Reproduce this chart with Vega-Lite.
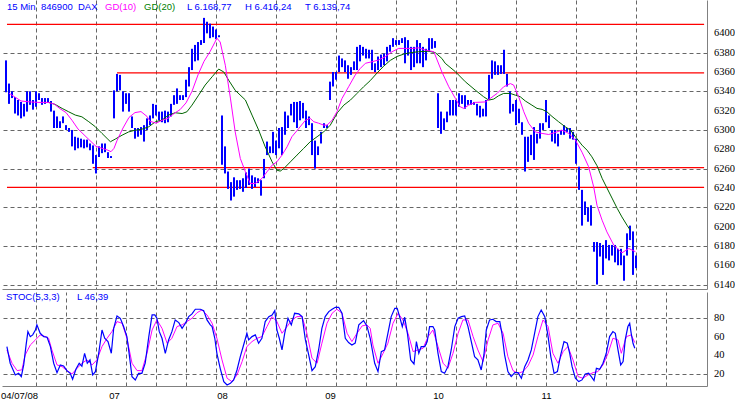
{
"$schema": "https://vega.github.io/schema/vega-lite/v6.json",
"padding": 0,
"background": "white",
"spacing": 0,
"config": {"view": {"stroke": null}, "concat": {"spacing": 0}, "axis": {"domainColor": "#808080", "gridColor": "#666666", "gridDash": [4, 3], "ticks": false, "labelColor": "black"}},
"datasets": {
"bars": [
{"i":0,"hi":6372,"lo":6339},{"i":1,"hi":6348,"lo":6327},{"i":2,"hi":6340,"lo":6333},{"i":3,"hi":6334,"lo":6317},{"i":4,"hi":6331,"lo":6315},{"i":5,"hi":6329,"lo":6312},{"i":6,"hi":6327,"lo":6314},{"i":7,"hi":6340,"lo":6319},{"i":8,"hi":6340,"lo":6326},{"i":9,"hi":6331,"lo":6321},
{"i":10,"hi":6340,"lo":6324},{"i":11,"hi":6338,"lo":6331},{"i":12,"hi":6333,"lo":6326},{"i":13,"hi":6333,"lo":6327},{"i":14,"hi":6333,"lo":6328},{"i":15,"hi":6330,"lo":6319},{"i":16,"hi":6320,"lo":6302},{"i":17,"hi":6314,"lo":6302},{"i":18,"hi":6309,"lo":6302},{"i":19,"hi":6314,"lo":6307},
{"i":20,"hi":6305,"lo":6300},{"i":21,"hi":6302,"lo":6298},{"i":22,"hi":6300,"lo":6283},{"i":23,"hi":6293,"lo":6279},{"i":24,"hi":6292,"lo":6281},{"i":25,"hi":6291,"lo":6282},{"i":26,"hi":6290,"lo":6281},{"i":27,"hi":6290,"lo":6282},{"i":28,"hi":6286,"lo":6279},{"i":29,"hi":6284,"lo":6265},
{"i":30,"hi":6274,"lo":6255},{"i":31,"hi":6283,"lo":6272},{"i":32,"hi":6286,"lo":6276},{"i":33,"hi":6286,"lo":6277},{"i":34,"hi":6277,"lo":6271},{"i":35,"hi":6273,"lo":6271},{"i":36,"hi":6341,"lo":6312},{"i":37,"hi":6358,"lo":6340},{"i":38,"hi":6357,"lo":6341},{"i":39,"hi":6340,"lo":6319},
{"i":40,"hi":6338,"lo":6327},{"i":41,"hi":6338,"lo":6319},{"i":42,"hi":6314,"lo":6302},{"i":43,"hi":6302,"lo":6291},{"i":44,"hi":6302,"lo":6293},{"i":45,"hi":6303,"lo":6295},{"i":46,"hi":6305,"lo":6288},{"i":47,"hi":6312,"lo":6300},{"i":48,"hi":6315,"lo":6305},{"i":49,"hi":6327,"lo":6312},
{"i":50,"hi":6326,"lo":6315},{"i":51,"hi":6319,"lo":6310},{"i":52,"hi":6319,"lo":6308},{"i":53,"hi":6320,"lo":6307},{"i":54,"hi":6319,"lo":6308},{"i":55,"hi":6327,"lo":6314},{"i":56,"hi":6336,"lo":6326},{"i":57,"hi":6343,"lo":6327},{"i":58,"hi":6336,"lo":6331},{"i":59,"hi":6336,"lo":6331},
{"i":60,"hi":6352,"lo":6334},{"i":61,"hi":6365,"lo":6345},{"i":62,"hi":6384,"lo":6362},{"i":63,"hi":6388,"lo":6371},{"i":64,"hi":6391,"lo":6372},{"i":65,"hi":6393,"lo":6388},{"i":66,"hi":6416,"lo":6390},{"i":67,"hi":6412,"lo":6400},{"i":68,"hi":6410,"lo":6395},{"i":69,"hi":6407,"lo":6396},
{"i":70,"hi":6404,"lo":6394},{"i":71,"hi":6398,"lo":6396},{"i":72,"hi":6315,"lo":6264},{"i":73,"hi":6283,"lo":6255},{"i":74,"hi":6257,"lo":6239},{"i":75,"hi":6246,"lo":6227},{"i":76,"hi":6251,"lo":6231},{"i":77,"hi":6248,"lo":6238},{"i":78,"hi":6248,"lo":6239},{"i":79,"hi":6250,"lo":6236},
{"i":80,"hi":6256,"lo":6240},{"i":81,"hi":6260,"lo":6243},{"i":82,"hi":6253,"lo":6239},{"i":83,"hi":6251,"lo":6241},{"i":84,"hi":6250,"lo":6245},{"i":85,"hi":6248,"lo":6232},{"i":86,"hi":6270,"lo":6250},{"i":87,"hi":6288,"lo":6274},{"i":88,"hi":6283,"lo":6276},{"i":89,"hi":6298,"lo":6276},
{"i":90,"hi":6289,"lo":6274},{"i":91,"hi":6302,"lo":6281},{"i":92,"hi":6303,"lo":6274},{"i":93,"hi":6319,"lo":6295},{"i":94,"hi":6315,"lo":6302},{"i":95,"hi":6327,"lo":6315},{"i":96,"hi":6329,"lo":6308},{"i":97,"hi":6329,"lo":6302},{"i":98,"hi":6330,"lo":6310},{"i":99,"hi":6328,"lo":6312},
{"i":100,"hi":6320,"lo":6302},{"i":101,"hi":6314,"lo":6305},{"i":102,"hi":6307,"lo":6274},{"i":103,"hi":6289,"lo":6260},{"i":104,"hi":6283,"lo":6274},{"i":105,"hi":6298,"lo":6286},{"i":106,"hi":6307,"lo":6302},{"i":107,"hi":6305,"lo":6302},{"i":108,"hi":6350,"lo":6331},{"i":109,"hi":6360,"lo":6345},
{"i":110,"hi":6360,"lo":6352},{"i":111,"hi":6377,"lo":6360},{"i":112,"hi":6374,"lo":6365},{"i":113,"hi":6372,"lo":6360},{"i":114,"hi":6367,"lo":6353},{"i":115,"hi":6365,"lo":6357},{"i":116,"hi":6371,"lo":6362},{"i":117,"hi":6386,"lo":6362},{"i":118,"hi":6388,"lo":6371},{"i":119,"hi":6386,"lo":6377},
{"i":120,"hi":6384,"lo":6374},{"i":121,"hi":6383,"lo":6374},{"i":122,"hi":6383,"lo":6362},{"i":123,"hi":6369,"lo":6360},{"i":124,"hi":6376,"lo":6362},{"i":125,"hi":6378,"lo":6365},{"i":126,"hi":6379,"lo":6367},{"i":127,"hi":6386,"lo":6371},{"i":128,"hi":6388,"lo":6381},{"i":129,"hi":6395,"lo":6386},
{"i":130,"hi":6393,"lo":6388},{"i":131,"hi":6393,"lo":6388},{"i":132,"hi":6395,"lo":6390},{"i":133,"hi":6396,"lo":6369},{"i":134,"hi":6393,"lo":6377},{"i":135,"hi":6386,"lo":6362},{"i":136,"hi":6386,"lo":6365},{"i":137,"hi":6393,"lo":6369},{"i":138,"hi":6390,"lo":6369},{"i":139,"hi":6386,"lo":6365},
{"i":140,"hi":6384,"lo":6372},{"i":141,"hi":6395,"lo":6381},{"i":142,"hi":6395,"lo":6384},{"i":143,"hi":6392,"lo":6385},{"i":144,"hi":6338,"lo":6302},{"i":145,"hi":6319,"lo":6296},{"i":146,"hi":6312,"lo":6300},{"i":147,"hi":6319,"lo":6308},{"i":148,"hi":6331,"lo":6315},{"i":149,"hi":6331,"lo":6315},
{"i":150,"hi":6331,"lo":6315},{"i":151,"hi":6338,"lo":6324},{"i":152,"hi":6336,"lo":6327},{"i":153,"hi":6336,"lo":6322},{"i":154,"hi":6331,"lo":6326},{"i":155,"hi":6331,"lo":6326},{"i":156,"hi":6329,"lo":6326},{"i":157,"hi":6327,"lo":6315},{"i":158,"hi":6325,"lo":6313},{"i":159,"hi":6322,"lo":6314},
{"i":160,"hi":6331,"lo":6314},{"i":161,"hi":6357,"lo":6331},{"i":162,"hi":6372,"lo":6353},{"i":163,"hi":6371,"lo":6357},{"i":164,"hi":6367,"lo":6357},{"i":165,"hi":6367,"lo":6358},{"i":166,"hi":6383,"lo":6358},{"i":167,"hi":6358,"lo":6345},{"i":168,"hi":6340,"lo":6317},{"i":169,"hi":6327,"lo":6319},
{"i":170,"hi":6331,"lo":6305},{"i":171,"hi":6322,"lo":6307},{"i":172,"hi":6308,"lo":6295},{"i":173,"hi":6293,"lo":6257},{"i":174,"hi":6293,"lo":6267},{"i":175,"hi":6295,"lo":6274},{"i":176,"hi":6303,"lo":6269},{"i":177,"hi":6296,"lo":6286},{"i":178,"hi":6307,"lo":6291},{"i":179,"hi":6307,"lo":6300},
{"i":180,"hi":6331,"lo":6308},{"i":181,"hi":6315,"lo":6302},{"i":182,"hi":6300,"lo":6288},{"i":183,"hi":6300,"lo":6286},{"i":184,"hi":6296,"lo":6283},{"i":185,"hi":6300,"lo":6295},{"i":186,"hi":6305,"lo":6295},{"i":187,"hi":6302,"lo":6298},{"i":188,"hi":6302,"lo":6291},{"i":189,"hi":6298,"lo":6290},
{"i":190,"hi":6291,"lo":6265},{"i":191,"hi":6262,"lo":6238},{"i":192,"hi":6238,"lo":6201},{"i":193,"hi":6226,"lo":6212},{"i":194,"hi":6220,"lo":6205},{"i":195,"hi":6222,"lo":6201},{"i":196,"hi":6184,"lo":6174},{"i":197,"hi":6184,"lo":6140},{"i":198,"hi":6183,"lo":6169},{"i":199,"hi":6181,"lo":6150},
{"i":200,"hi":6186,"lo":6167},{"i":201,"hi":6181,"lo":6165},{"i":202,"hi":6181,"lo":6170},{"i":203,"hi":6181,"lo":6163},{"i":204,"hi":6177,"lo":6160},{"i":205,"hi":6177,"lo":6160},{"i":206,"hi":6170,"lo":6144},{"i":207,"hi":6193,"lo":6170},{"i":208,"hi":6201,"lo":6186},{"i":209,"hi":6195,"lo":6150},
{"i":210,"hi":6170,"lo":6157}
],
"ma10": [
{"i":1,"v":6338},{"i":3,"v":6334},{"i":5,"v":6330},{"i":8,"v":6329},{"i":11,"v":6328.5},{"i":14,"v":6328.5},{"i":16,"v":6327},{"i":18,"v":6322},{"i":20,"v":6318},{"i":22,"v":6310},{"i":24,"v":6301},{"i":26,"v":6295},{"i":28,"v":6289},{"i":30,"v":6283},{"i":32,"v":6281},{"i":34,"v":6279},{"i":35,"v":6277.5},{"i":36,"v":6281},{"i":37,"v":6289},{"i":39,"v":6302},{"i":41,"v":6313},{"i":43,"v":6318},{"i":45,"v":6319},{"i":47,"v":6314},{"i":48,"v":6309},{"i":50,"v":6307},{"i":52,"v":6310},{"i":54,"v":6312},{"i":56,"v":6317},{"i":58,"v":6321},{"i":60,"v":6328},{"i":62,"v":6340},{"i":64,"v":6357},{"i":66,"v":6371},{"i":68,"v":6381},{"i":69.5,"v":6390},{"i":70.3,"v":6395},{"i":71.4,"v":6391},{"i":73.1,"v":6367},{"i":74.8,"v":6333},{"i":76.4,"v":6298},{"i":78.1,"v":6270.5},{"i":79.8,"v":6256.7},{"i":81.4,"v":6244.6},{"i":83.1,"v":6244.6},{"i":85.3,"v":6249.8},{"i":87,"v":6256.7},{"i":88.7,"v":6263.6},{"i":90.3,"v":6267},{"i":92,"v":6274},{"i":93.7,"v":6282.6},{"i":95.3,"v":6293},{"i":97.6,"v":6301.6},{"i":99.8,"v":6310},{"i":101.4,"v":6312},{"i":102.6,"v":6308.5},{"i":104.2,"v":6307},{"i":105.9,"v":6305},{"i":107,"v":6305},{"i":108.7,"v":6310},{"i":110.3,"v":6318.8},{"i":112,"v":6332.6},{"i":114.2,"v":6344.7},{"i":116.4,"v":6356.8},{"i":118.1,"v":6363.7},{"i":119.8,"v":6369},{"i":122,"v":6370.6},{"i":124.2,"v":6372.4},{"i":126.4,"v":6375.8},{"i":128.7,"v":6381},{"i":130.9,"v":6384.4},{"i":135.3,"v":6384.4},{"i":137.6,"v":6385},{"i":139.8,"v":6382.7},{"i":142.6,"v":6381},{"i":145.3,"v":6360},{"i":147.6,"v":6344.7},{"i":149.8,"v":6332.6},{"i":151.4,"v":6324},{"i":152.6,"v":6322.3},{"i":154.2,"v":6325.7},{"i":156.4,"v":6328.5},{"i":159.8,"v":6329},{"i":161.4,"v":6332.6},{"i":163.7,"v":6337.8},{"i":165.9,"v":6344.7},{"i":168.1,"v":6348},{"i":169.2,"v":6346.5},{"i":170.9,"v":6334.4},{"i":172.6,"v":6318.8},{"i":174.2,"v":6307},{"i":176.4,"v":6298},{"i":178.7,"v":6296.4},{"i":180.9,"v":6295.3},{"i":183.1,"v":6297.4},{"i":185.3,"v":6299.8},{"i":187.6,"v":6296.4},{"i":189.8,"v":6289.5},{"i":192,"v":6277},{"i":194.2,"v":6262},{"i":195.9,"v":6241},{"i":197,"v":6222},{"i":198.7,"v":6206.6},{"i":200.3,"v":6194.5},{"i":202.6,"v":6180.7},{"i":205.3,"v":6172.8},{"i":207.6,"v":6177.3},{"i":209.8,"v":6174}
],
"ma20": [
{"i":14.2,"v":6328.5},{"i":16.4,"v":6326.4},{"i":18.7,"v":6322.3},{"i":20.9,"v":6318.8},{"i":23.1,"v":6315.4},{"i":25.3,"v":6313.6},{"i":27.6,"v":6308.5},{"i":29.8,"v":6303.3},{"i":32,"v":6296.4},{"i":33.7,"v":6291.2},{"i":34.8,"v":6287.8},{"i":36.4,"v":6290.5},{"i":38.7,"v":6294.6},{"i":40.9,"v":6298},{"i":43.1,"v":6299.8},{"i":45.3,"v":6300.8},{"i":47.6,"v":6303.3},{"i":49.8,"v":6308.5},{"i":52,"v":6310.2},{"i":54.2,"v":6315.4},{"i":56.4,"v":6317.8},{"i":58.7,"v":6317},{"i":60.3,"v":6318.8},{"i":62,"v":6325.7},{"i":64.2,"v":6336},{"i":66.4,"v":6346.5},{"i":68.7,"v":6355},{"i":70.9,"v":6363},{"i":72.6,"v":6360},{"i":74.2,"v":6351.6},{"i":76.4,"v":6341},{"i":79.8,"v":6331},{"i":82,"v":6315.4},{"i":84.2,"v":6300},{"i":86.4,"v":6282.6},{"i":88.7,"v":6267},{"i":90.3,"v":6258.4},{"i":91.4,"v":6257.4},{"i":92.6,"v":6260},{"i":94.8,"v":6267},{"i":97,"v":6274},{"i":99.2,"v":6280.8},{"i":101.4,"v":6287.8},{"i":103.7,"v":6293},{"i":105.9,"v":6298},{"i":108.1,"v":6305},{"i":110.5,"v":6318},{"i":112.6,"v":6325.7},{"i":114.8,"v":6330.9},{"i":117,"v":6337.8},{"i":119.2,"v":6344.7},{"i":121.4,"v":6351},{"i":123.7,"v":6359},{"i":125.9,"v":6366},{"i":128.1,"v":6372},{"i":130.3,"v":6376},{"i":132.6,"v":6378.5},{"i":134.8,"v":6380},{"i":137.6,"v":6381},{"i":140.9,"v":6381.5},{"i":143.1,"v":6380},{"i":145.3,"v":6374},{"i":146.4,"v":6369},{"i":149.8,"v":6360.3},{"i":153.1,"v":6349.9},{"i":156.4,"v":6341.3},{"i":159.2,"v":6334.4},{"i":160.9,"v":6330.9},{"i":162.6,"v":6332},{"i":164.2,"v":6335.4},{"i":165.9,"v":6337.8},{"i":168.1,"v":6337.8},{"i":169.8,"v":6336},{"i":171.4,"v":6334.4},{"i":173.1,"v":6330},{"i":175.3,"v":6325.7},{"i":177,"v":6322.3},{"i":178.7,"v":6321.3},{"i":180.3,"v":6318.8},{"i":182,"v":6314},{"i":184.2,"v":6308.5},{"i":186.4,"v":6303.3},{"i":188.1,"v":6300},{"i":189.8,"v":6293},{"i":192,"v":6284.3},{"i":193.7,"v":6279},{"i":195.3,"v":6272.2},{"i":197,"v":6263},{"i":198.7,"v":6250},{"i":200.3,"v":6240},{"i":202,"v":6229.5},{"i":203.7,"v":6219},{"i":205.3,"v":6210},{"i":207,"v":6201.4},{"i":208.1,"v":6196.2}
],
"levels": [
{"lvl":6409.3,"s":0.33,"e":232.7},{"lvl":6359,"s":37,"e":232.7},{"lvl":6261,"s":28.9,"e":232.7},{"lvl":6240.6,"s":0.33,"e":232.7}
],
"plab": [
{"p":6140},{"p":6160},{"p":6180},{"p":6200},{"p":6220},{"p":6240},{"p":6260},{"p":6280},{"p":6300},{"p":6320},{"p":6340},{"p":6360},{"p":6380},{"p":6400}
],
"slab": [
{"p":20},{"p":40},{"p":60},{"p":80}
],
"hdr": [
{"t":"15 Min","k":1},{"t":"846900","k":2},{"t":"DAX","k":3},{"t":"GD(10)","k":4},{"t":"GD(20)","k":5},{"t":"L  6.168,77","k":6},{"t":"H  6.416,24","k":7},{"t":"T  6.139,74","k":8},{"t":"STOC(5,3,3)","k":9},{"t":"L  46,39","k":10}
],
"stk": [
{"i":0.3,"v":49.3},{"i":1.4,"v":31.2},{"i":3.1,"v":18.5},{"i":4.2,"v":20.3},{"i":5.1,"v":16.7},{"i":5.9,"v":29.4},{"i":6.7,"v":51.1},{"i":7.3,"v":65.5},{"i":8.1,"v":60},{"i":8.9,"v":62},{"i":9.8,"v":67.3},{"i":10.3,"v":72.8},{"i":11.4,"v":63.7},{"i":12.6,"v":60.1},{"i":13.7,"v":59.4},{"i":14.8,"v":49.3},{"i":15.9,"v":31.2},{"i":17,"v":21},{"i":18.1,"v":29.4},{"i":19.2,"v":28.3},{"i":20.3,"v":23.2},{"i":21.4,"v":20.3},{"i":22.2,"v":13.8},{"i":23.3,"v":24.6},{"i":24.4,"v":31.2},{"i":25.3,"v":28},{"i":26.2,"v":42},{"i":27.1,"v":31.2},{"i":28,"v":34.8},{"i":28.9,"v":18.5},{"i":29.8,"v":22.1},{"i":30.9,"v":42},{"i":32,"v":67.3},{"i":32.9,"v":58.3},{"i":34,"v":54.7},{"i":35.1,"v":42},{"i":35.9,"v":69.1},{"i":37,"v":82.5},{"i":38.1,"v":80},{"i":39.2,"v":71},{"i":40.3,"v":60.1},{"i":41.1,"v":40.2},{"i":42,"v":16.7},{"i":43.1,"v":13.1},{"i":44.2,"v":20.3},{"i":45.3,"v":20.3},{"i":46.4,"v":31.2},{"i":47.6,"v":60.1},{"i":48.7,"v":83.6},{"i":49.6,"v":83.6},{"i":50.3,"v":80},{"i":51.1,"v":65.5},{"i":52,"v":58.3},{"i":53.1,"v":42},{"i":54.2,"v":56.5},{"i":55.3,"v":65.5},{"i":56.4,"v":78.2},{"i":57.6,"v":75.3},{"i":58.7,"v":69.1},{"i":59.8,"v":74.6},{"i":60.9,"v":81.8},{"i":62,"v":84.7},{"i":63.1,"v":89.8},{"i":64.8,"v":89.8},{"i":65.9,"v":88.3},{"i":67,"v":78.2},{"i":68.1,"v":72.8},{"i":68.7,"v":71},{"i":69.6,"v":58.3},{"i":70.3,"v":42},{"i":71.4,"v":25.7},{"i":72.6,"v":11.3},{"i":73.7,"v":7.6},{"i":74.8,"v":9.4},{"i":75.9,"v":13.1},{"i":77,"v":23.9},{"i":78.1,"v":38.4},{"i":79.2,"v":51},{"i":80.3,"v":63.7},{"i":80.9,"v":56.5},{"i":82,"v":60.1},{"i":83.1,"v":62},{"i":84.2,"v":52.9},{"i":85.3,"v":58.3},{"i":86.4,"v":76.4},{"i":87.6,"v":81.8},{"i":88.7,"v":83.6},{"i":89.6,"v":88.3},{"i":90.3,"v":67.3},{"i":91.1,"v":58.3},{"i":92,"v":45.6},{"i":92.9,"v":63.7},{"i":94,"v":80},{"i":95.1,"v":72.8},{"i":96.2,"v":85.4},{"i":97.6,"v":84.7},{"i":98.7,"v":81.8},{"i":99.8,"v":56.5},{"i":100.9,"v":40.2},{"i":102,"v":23.2},{"i":103.1,"v":27.5},{"i":104.2,"v":45.6},{"i":105.3,"v":69.1},{"i":106.4,"v":81.8},{"i":107.6,"v":87.2},{"i":108.7,"v":89.8},{"i":109.8,"v":91.9},{"i":110.9,"v":91.9},{"i":112,"v":85.4},{"i":113.1,"v":58.3},{"i":114.2,"v":53.6},{"i":115.3,"v":51},{"i":116.4,"v":53},{"i":117.6,"v":72.8},{"i":119.2,"v":77.5},{"i":120.3,"v":71.7},{"i":121.4,"v":58.3},{"i":122.9,"v":31.2},{"i":124,"v":22.1},{"i":125.1,"v":43.8},{"i":126.2,"v":45.6},{"i":127.3,"v":63.7},{"i":128.4,"v":81.8},{"i":129.6,"v":90.8},{"i":130.4,"v":90.8},{"i":131.2,"v":81.8},{"i":132.1,"v":71},{"i":132.9,"v":81.1},{"i":133.8,"v":63.7},{"i":134.9,"v":34.8},{"i":136,"v":30.4},{"i":136.8,"v":54.7},{"i":137.6,"v":42},{"i":138.4,"v":49.3},{"i":139.6,"v":49.3},{"i":140.4,"v":54.7},{"i":141.2,"v":71},{"i":142.3,"v":71},{"i":142.9,"v":67.3},{"i":144,"v":42},{"i":145.1,"v":22.1},{"i":146.2,"v":20.3},{"i":147.3,"v":27.5},{"i":148.4,"v":45.6},{"i":149.6,"v":71},{"i":150.7,"v":80},{"i":151.8,"v":81.8},{"i":152.9,"v":82.5},{"i":154,"v":71},{"i":155.1,"v":54.7},{"i":156.2,"v":38.4},{"i":157.3,"v":34.8},{"i":158.4,"v":23.9},{"i":159.3,"v":40.2},{"i":160.1,"v":67.3},{"i":161.2,"v":78.2},{"i":162.3,"v":78.9},{"i":163.4,"v":76.4},{"i":164.6,"v":76.4},{"i":165.3,"v":63.7},{"i":166.2,"v":40.2},{"i":167.3,"v":22.1},{"i":168.4,"v":16.7},{"i":169.6,"v":21},{"i":170.7,"v":21},{"i":171.8,"v":14.9},{"i":172.9,"v":27.5},{"i":174,"v":34.8},{"i":175.1,"v":45.6},{"i":176.2,"v":63.7},{"i":177.3,"v":81.8},{"i":178.4,"v":89},{"i":179.6,"v":81.8},{"i":180.7,"v":60.1},{"i":181.6,"v":38.4},{"i":182.7,"v":20.3},{"i":183.8,"v":22.1},{"i":184.9,"v":40.2},{"i":186,"v":54.7},{"i":187.1,"v":52.9},{"i":187.9,"v":42},{"i":188.7,"v":27.5},{"i":189.8,"v":14.9},{"i":190.9,"v":11.3},{"i":192,"v":13.1},{"i":193.1,"v":19.6},{"i":194.2,"v":20.3},{"i":195.1,"v":16.7},{"i":196,"v":12.4},{"i":196.8,"v":25.7},{"i":197.9,"v":24.6},{"i":199,"v":31.2},{"i":200.1,"v":42},{"i":201.2,"v":60.1},{"i":202.3,"v":65.5},{"i":203.1,"v":63.7},{"i":204,"v":45.6},{"i":204.9,"v":29.4},{"i":205.7,"v":33},{"i":206.4,"v":56.5},{"i":207.3,"v":71},{"i":207.9,"v":74.6},{"i":208.4,"v":63.7},{"i":209,"v":52.9},{"i":209.6,"v":47.4}
],
"std": [
{"i":0.3,"v":45.6},{"i":2,"v":31.2},{"i":3.7,"v":23.2},{"i":5.3,"v":24},{"i":6.4,"v":40.2},{"i":8.1,"v":51},{"i":9.8,"v":56.5},{"i":11.4,"v":61.9},{"i":13.1,"v":60.1},{"i":14.2,"v":58.3},{"i":15.3,"v":45.6},{"i":17,"v":29.4},{"i":18.7,"v":27.5},{"i":20.3,"v":23.2},{"i":22,"v":19.6},{"i":23.7,"v":25.7},{"i":25.3,"v":31.2},{"i":27,"v":34.8},{"i":28.7,"v":29.4},{"i":30.3,"v":34.8},{"i":32,"v":49.3},{"i":33.7,"v":58.3},{"i":35.3,"v":65.5},{"i":37,"v":76.4},{"i":38.7,"v":74.6},{"i":40.3,"v":58.3},{"i":42,"v":31.2},{"i":43.7,"v":23.2},{"i":45.3,"v":23.2},{"i":47,"v":42},{"i":48.7,"v":67.3},{"i":50.3,"v":78.2},{"i":52,"v":69.1},{"i":53.7,"v":52.9},{"i":55.3,"v":58.3},{"i":57,"v":71},{"i":58.7,"v":72.8},{"i":60.3,"v":76.4},{"i":62,"v":80},{"i":63.7,"v":86.1},{"i":65.3,"v":89},{"i":67,"v":83.6},{"i":68.7,"v":74.6},{"i":70.3,"v":58.3},{"i":72,"v":34.8},{"i":73.7,"v":14.9},{"i":75.3,"v":11.3},{"i":77,"v":18.5},{"i":78.7,"v":33},{"i":80.3,"v":49.3},{"i":82,"v":54.7},{"i":83.7,"v":58.3},{"i":85.3,"v":60.1},{"i":87,"v":71},{"i":88.7,"v":81.8},{"i":90.3,"v":76.4},{"i":92,"v":63.7},{"i":93.7,"v":71},{"i":95.3,"v":78.2},{"i":97,"v":81.8},{"i":98.7,"v":81.8},{"i":100.3,"v":63.7},{"i":102,"v":36.6},{"i":103.7,"v":31.2},{"i":105.3,"v":52.9},{"i":107,"v":74.6},{"i":108.7,"v":85.4},{"i":110.3,"v":89.8},{"i":112,"v":85.4},{"i":113.7,"v":63.7},{"i":115.3,"v":54.7},{"i":117,"v":63.7},{"i":118.7,"v":71.7},{"i":120.3,"v":72.8},{"i":121.4,"v":69.1},{"i":122.3,"v":51},{"i":124,"v":31.2},{"i":125.7,"v":42},{"i":127.3,"v":52.9},{"i":129,"v":74.6},{"i":130.7,"v":85.4},{"i":132.3,"v":78.2},{"i":134,"v":63.7},{"i":135.7,"v":43.8},{"i":137.3,"v":45.6},{"i":139,"v":47.4},{"i":140.7,"v":60.1},{"i":142.3,"v":67.3},{"i":144,"v":49.3},{"i":145.7,"v":31.2},{"i":147.3,"v":25.7},{"i":149,"v":42},{"i":150.7,"v":63.7},{"i":152.3,"v":78.2},{"i":154,"v":78.2},{"i":155.7,"v":60.1},{"i":157.3,"v":45.6},{"i":159,"v":33},{"i":160.7,"v":56.5},{"i":162.3,"v":72.8},{"i":164,"v":74.6},{"i":165.7,"v":63.7},{"i":167.3,"v":38.4},{"i":169,"v":23.2},{"i":170.7,"v":20.3},{"i":172.3,"v":22.1},{"i":174,"v":28.3},{"i":175.7,"v":40.2},{"i":177.3,"v":60.1},{"i":179,"v":78.2},{"i":180.7,"v":71},{"i":182.3,"v":42},{"i":184,"v":31.2},{"i":185.7,"v":43.8},{"i":187.3,"v":49.3},{"i":189,"v":34.8},{"i":190.7,"v":16.7},{"i":192.3,"v":14.9},{"i":194,"v":18.5},{"i":195.7,"v":21},{"i":197.3,"v":22.1},{"i":199,"v":29.4},{"i":200.7,"v":42},{"i":202.3,"v":58.3},{"i":204,"v":56.5},{"i":205.1,"v":42},{"i":206.8,"v":60.1},{"i":208.4,"v":61.9},{"i":209.6,"v":53.6}
]
},
"vconcat": [
{
"width": 705, "height": 289,
"layer": [
{"data": {"name": "levels"}, "mark": {"type": "rule", "color": "#ff0000", "strokeWidth": 1.2},
 "encoding": {
  "x": {"field": "s", "type": "quantitative", "scale": {"domain": [-1.3333, 233.6667], "nice": false, "zero": false}, "axis": {"values": [10,20,30,40,50,60,70,80,90,100,110,120,130,140,150,160,170,180,190,200,210,220], "grid": true, "labels": false, "title": null}},
  "x2": {"field": "e"},
  "y": {"field": "lvl", "type": "quantitative", "scale": {"domain": [6135.4, 6434.5], "nice": false, "zero": false}, "axis": {"orient": "right", "values": [6140,6160,6180,6200,6220,6240,6260,6280,6300,6320,6340,6360,6380,6400], "grid": true, "labels": false, "title": null}}
 }},
{"data": {"name": "bars"}, "mark": {"type": "rule", "color": "#0000ff", "strokeWidth": 2},
 "encoding": {"x": {"field": "i", "type": "quantitative"}, "y": {"field": "lo", "type": "quantitative"}, "y2": {"field": "hi"}}},
{"data": {"name": "ma20"}, "mark": {"type": "line", "color": "#006400", "strokeWidth": 1},
 "encoding": {"x": {"field": "i", "type": "quantitative"}, "y": {"field": "v", "type": "quantitative"}}},
{"data": {"name": "ma10"}, "mark": {"type": "line", "color": "#ff00ff", "strokeWidth": 1},
 "encoding": {"x": {"field": "i", "type": "quantitative"}, "y": {"field": "v", "type": "quantitative"}}},
{"data": {"name": "plab"}, "mark": {"type": "text", "color": "black", "font": "Liberation Serif", "fontSize": 10.5, "align": "left", "baseline": "middle"},
 "encoding": {"x": {"datum": 236, "type": "quantitative"}, "y": {"field": "p", "type": "quantitative"}, "text": {"field": "p", "type": "quantitative", "format": "d"}}},
{"data": {"name": "hdr"}, "transform": [{"filter": "datum.k == 1"}], "mark": {"type": "text", "color": "#0000ff", "font": "Liberation Sans", "fontSize": 9.5, "align": "left", "baseline": "alphabetic"}, "encoding": {"x": {"datum": 0.33, "type": "quantitative"}, "y": {"datum": 6424.1, "type": "quantitative"}, "text": {"field": "t"}}},
{"data": {"name": "hdr"}, "transform": [{"filter": "datum.k == 2"}], "mark": {"type": "text", "color": "#0000ff", "font": "Liberation Sans", "fontSize": 9.5, "align": "left", "baseline": "alphabetic"}, "encoding": {"x": {"datum": 11.67, "type": "quantitative"}, "y": {"datum": 6424.1, "type": "quantitative"}, "text": {"field": "t"}}},
{"data": {"name": "hdr"}, "transform": [{"filter": "datum.k == 3"}], "mark": {"type": "text", "color": "#0000ff", "font": "Liberation Sans", "fontSize": 9.5, "align": "left", "baseline": "alphabetic"}, "encoding": {"x": {"datum": 24, "type": "quantitative"}, "y": {"datum": 6424.1, "type": "quantitative"}, "text": {"field": "t"}}},
{"data": {"name": "hdr"}, "transform": [{"filter": "datum.k == 4"}], "mark": {"type": "text", "color": "#ff00ff", "font": "Liberation Sans", "fontSize": 9.5, "align": "left", "baseline": "alphabetic"}, "encoding": {"x": {"datum": 33, "type": "quantitative"}, "y": {"datum": 6424.1, "type": "quantitative"}, "text": {"field": "t"}}},
{"data": {"name": "hdr"}, "transform": [{"filter": "datum.k == 5"}], "mark": {"type": "text", "color": "#008000", "font": "Liberation Sans", "fontSize": 9.5, "align": "left", "baseline": "alphabetic"}, "encoding": {"x": {"datum": 46, "type": "quantitative"}, "y": {"datum": 6424.1, "type": "quantitative"}, "text": {"field": "t"}}},
{"data": {"name": "hdr"}, "transform": [{"filter": "datum.k == 6"}], "mark": {"type": "text", "color": "#0000ff", "font": "Liberation Sans", "fontSize": 9.5, "align": "left", "baseline": "alphabetic"}, "encoding": {"x": {"datum": 60.33, "type": "quantitative"}, "y": {"datum": 6424.1, "type": "quantitative"}, "text": {"field": "t"}}},
{"data": {"name": "hdr"}, "transform": [{"filter": "datum.k == 7"}], "mark": {"type": "text", "color": "#0000ff", "font": "Liberation Sans", "fontSize": 9.5, "align": "left", "baseline": "alphabetic"}, "encoding": {"x": {"datum": 79.67, "type": "quantitative"}, "y": {"datum": 6424.1, "type": "quantitative"}, "text": {"field": "t"}}},
{"data": {"name": "hdr"}, "transform": [{"filter": "datum.k == 8"}], "mark": {"type": "text", "color": "#0000ff", "font": "Liberation Sans", "fontSize": 9.5, "align": "left", "baseline": "alphabetic"}, "encoding": {"x": {"datum": 99.67, "type": "quantitative"}, "y": {"datum": 6424.1, "type": "quantitative"}, "text": {"field": "t"}}}
]
},
{
"width": 705, "height": 94,
"resolve": {"axis": {"x": "independent"}},
"layer": [
{"data": {"name": "std"}, "mark": {"type": "line", "color": "#ff00ff", "strokeWidth": 1},
 "encoding": {
  "x": {"field": "i", "type": "quantitative", "scale": {"domain": [-1.3333, 233.6667], "nice": false, "zero": false},
   "axis": {"orient": "top", "values": [10,20,30,40,50,60,70,80,90,100,110,120,130,140,150,160,170,180,190,200,210,220], "grid": true, "labels": false, "domain": false, "title": null}},
  "y": {"field": "v", "type": "quantitative", "scale": {"domain": [6.5, 108.5], "nice": false, "zero": false},
   "axis": {"orient": "right", "values": [20,40,60,80], "grid": true, "labels": false, "title": null}}
 }},
{"data": {"name": "stk"}, "mark": {"type": "line", "color": "#0000ff", "strokeWidth": 1.2},
 "encoding": {
  "x": {"field": "i", "type": "quantitative",
   "axis": {"orient": "bottom", "values": [4.33, 36, 72, 108, 144, 180], "grid": false, "labelExpr": "datum.value < 10 ? '04/07/08' : datum.value == 36 ? '07' : datum.value == 72 ? '08' : datum.value == 108 ? '09' : datum.value == 144 ? '10' : '11'", "labelOverlap": false, "labelBound": false, "labelFlush": false, "labelFont": "Liberation Sans", "labelFontSize": 9.5, "labelPadding": 4, "title": null}},
  "y": {"field": "v", "type": "quantitative"}
 }},
{"data": {"name": "slab"}, "mark": {"type": "text", "color": "black", "font": "Liberation Serif", "fontSize": 10.5, "align": "left", "baseline": "middle"},
 "encoding": {"x": {"datum": 236, "type": "quantitative", "axis": null}, "y": {"field": "p", "type": "quantitative"}, "text": {"field": "p", "type": "quantitative", "format": "d"}}},
{"data": {"name": "hdr"}, "transform": [{"filter": "datum.k == 9"}], "mark": {"type": "text", "color": "#0000ff", "font": "Liberation Sans", "fontSize": 9.5, "align": "left", "baseline": "alphabetic"}, "encoding": {"x": {"datum": 0, "type": "quantitative", "axis": null}, "y": {"datum": 99.9, "type": "quantitative"}, "text": {"field": "t"}}},
{"data": {"name": "hdr"}, "transform": [{"filter": "datum.k == 10"}], "mark": {"type": "text", "color": "#0000ff", "font": "Liberation Sans", "fontSize": 9.5, "align": "left", "baseline": "alphabetic"}, "encoding": {"x": {"datum": 23.67, "type": "quantitative", "axis": null}, "y": {"datum": 99.9, "type": "quantitative"}, "text": {"field": "t"}}}
]
}
]
}
